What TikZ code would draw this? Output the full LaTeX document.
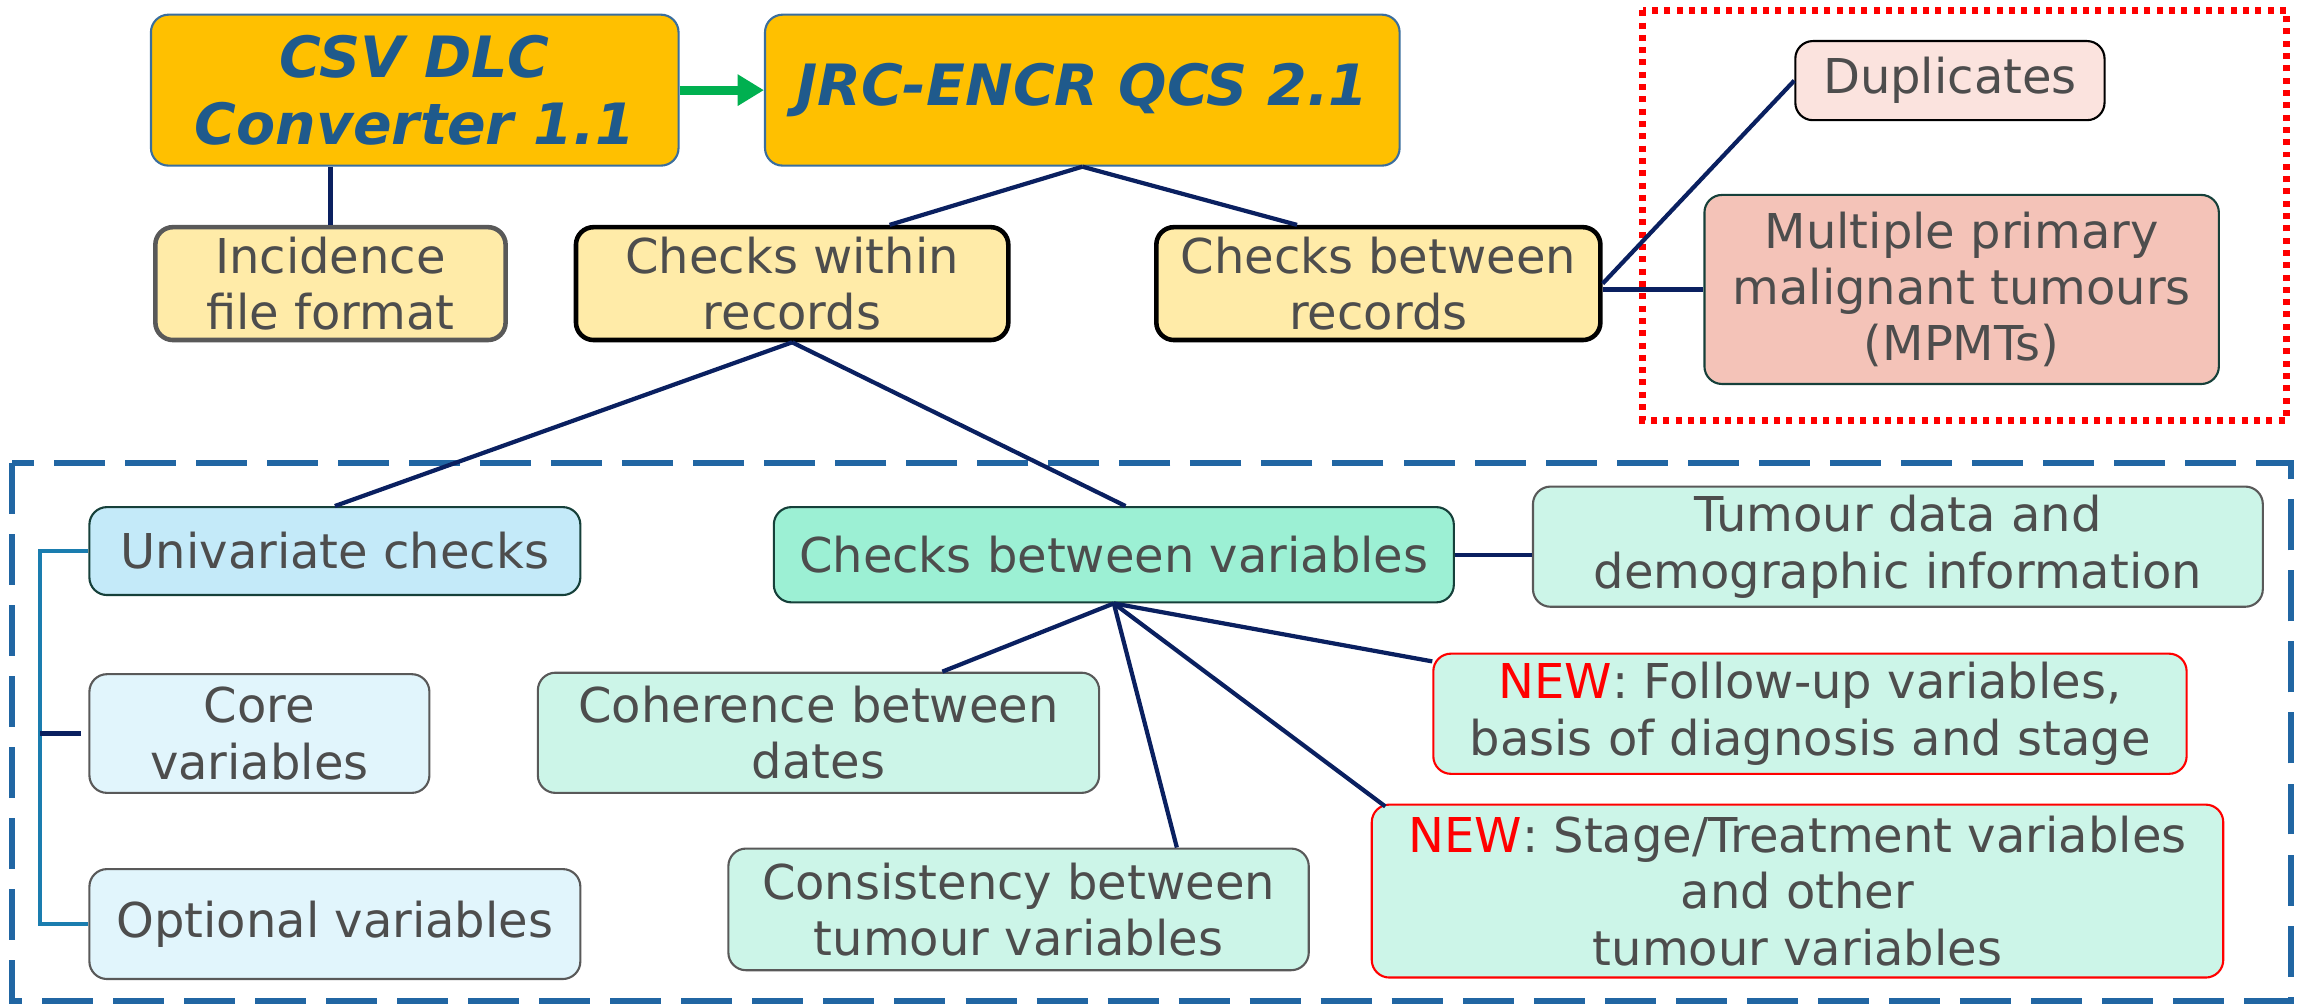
\documentclass[tikz,border=0pt]{standalone}
\usepackage{fontspec}
\setmainfont{DejaVu Sans}
\usetikzlibrary{arrows.meta}

\definecolor{titleblue}{HTML}{1F5A8C}
\definecolor{textgray}{HTML}{4D4D4D}
\definecolor{gold}{HTML}{FFC000}
\definecolor{goldedge}{HTML}{3A6E9E}
\definecolor{paleyellow}{HTML}{FFEBA8}
\definecolor{palerose}{HTML}{FBE3DE}
\definecolor{salmon}{HTML}{F4C3B8}
\definecolor{skyblue}{HTML}{C4EAF9}
\definecolor{paleblue}{HTML}{E1F5FC}
\definecolor{mint}{HTML}{9CF0D4}
\definecolor{palemint}{HTML}{CCF5E8}
\definecolor{darkteal}{HTML}{16403A}
\definecolor{edgegray}{HTML}{595959}
\definecolor{linknavy}{HTML}{0A2060}
\definecolor{arrowgreen}{HTML}{00B050}
\definecolor{frameblue}{HTML}{2166A3}
\definecolor{bracketblue}{HTML}{1A7DAF}

\newlength{\du}
\setlength{\du}{0.014656cm}

\tikzset{
  sz/.style 2 args={minimum width=#1\du, minimum height=#2\du},
  box/.style={draw, rounded corners=5pt, align=center, inner sep=2pt, text=textgray,
    line width=0.6pt, font=\fontsize{13.65}{16}\selectfont},
  titlebox/.style={box, fill=gold, draw=goldedge, text=titleblue,
    font=\fontsize{16.2}{19.2}\selectfont\bfseries\itshape},
  recbox/.style={box, fill=paleyellow, draw=black, line width=1.3pt},
  univbox/.style={box, fill=skyblue, draw=darkteal},
  varbox/.style={box, fill=paleblue, draw=edgegray},
  cbvbox/.style={box, fill=mint, draw=darkteal},
  subbox/.style={box, fill=palemint, draw=edgegray},
  newbox/.style={box, fill=palemint, draw=red},
  link/.style={draw=linknavy, line width=1.2pt},
}

\begin{document}
\begin{tikzpicture}[x=\du, y=-\du]
\useasboundingbox (0,0) rectangle (1568,685);

% frames
\draw[frameblue, line width=1.6pt, dash pattern=on 14.5pt off 5.7pt] (8,316) rectangle (1563,683);
\draw[red, line width=2pt, dash pattern=on 1.7pt off 1.8pt] (1121,7) rectangle (1560,287);

% tools
\node[titlebox, sz={360}{103}] (csv) at (283,61.5) {CSV DLC\\Converter 1.1};
\node[titlebox, sz={433}{103}] (jrc) at (738.5,61.5) {JRC-ENCR QCS 2.1};
\draw[arrowgreen, line width=2.6pt, -{Triangle[length=7.5pt, width=8.5pt]}] (csv.east) -- (jrc.west);

% record level
\node[recbox, draw=edgegray, sz={239}{77}] (incid) at (225.5,193.5) {Incidence\\file format};
\node[recbox, sz={295}{77}] (within) at (540.5,193.5) {Checks within\\records};
\node[recbox, sz={303}{77}] (betrec) at (940.5,193.5) {Checks between\\records};
\node[box, fill=palerose, draw=black, sz={211}{54}] (dup) at (1330.5,55) {Duplicates};
\node[box, fill=salmon, draw=darkteal, sz={351}{129}] (mpmt) at (1338.5,197.5) {Multiple primary\\malignant tumours\\(MPMTs)};

% variable level
\node[univbox, sz={335}{60}] (univ) at (228.5,376) {Univariate checks};
\node[varbox, sz={232}{81}] (core) at (177,500.5) {Core\\variables};
\node[varbox, sz={335}{75}] (opt) at (228.5,630.5) {Optional variables};
\node[cbvbox, sz={464}{65}] (cbv) at (760,378.5) {Checks between variables};
\node[subbox, sz={498}{82}] (tumd) at (1295,373) {Tumour data and\\demographic information};
\node[subbox, sz={383}{82}] (coher) at (558.5,500) {Coherence between\\dates};
\node[subbox, sz={396}{83}] (consis) at (695,620.5) {Consistency between\\tumour variables};
\node[newbox, sz={514}{82}] (newfu) at (1235,487) {\textcolor{red}{NEW}: Follow-up variables,\\basis of diagnosis and stage};
\node[newbox, sz={581}{118}] (newst) at (1226.5,608) {\textcolor{red}{NEW}: Stage/Treatment variables\\and other\\tumour variables};

% connectors
\draw[link] (csv.south -| incid.north) -- (incid.north);
\draw[link] (jrc.south) -- ([xshift=66.5\du]within.north);
\draw[link] (jrc.south) -- ([xshift=-55.5\du]betrec.north);
\draw[link] (betrec.east) -- (dup.west);
\draw[link] (mpmt.west -| betrec.east) -- (mpmt.west);
\draw[link] (within.south) -- (univ.north);
\draw[link] (within.south) -- ([xshift=8\du]cbv.north);
\draw[link] (cbv.east) -- (cbv.east -| tumd.west);
\draw[link] (cbv.south) -- ([xshift=84.5\du]coher.north);
\draw[link] (cbv.south) -- ([xshift=108\du]consis.north);
\draw[link] (cbv.south) -- ([yshift=-6\du]newfu.north west);
\draw[link] (cbv.south) -- ([xshift=10\du, yshift=-2\du]newst.north west);

% bracket
\draw[bracketblue, line width=1.1pt] (univ.west) -- ++(-33,0) |- (opt.west);
\draw[linknavy, line width=1.5pt] ([xshift=-33\du]core.west) -- ([xshift=-5\du]core.west);
\end{tikzpicture}
\end{document}
